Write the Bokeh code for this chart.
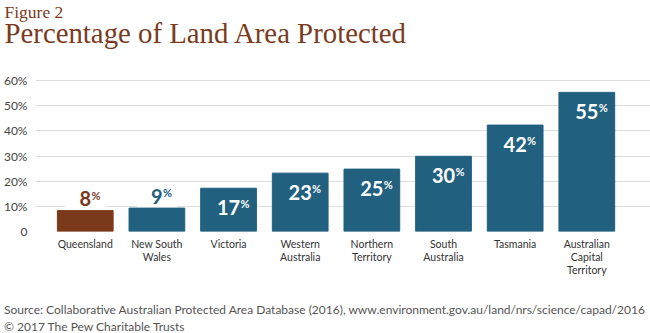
from bokeh.plotting import figure
from bokeh.models import ColumnDataSource, Range1d, FixedTicker, Title
from bokeh.embed import file_html
from bokeh.resources import INLINE
from bokeh.core.properties import value

# ---- data ----
categories = ["Queensland", "New South\nWales", "Victoria", "Western\nAustralia",
              "Northern\nTerritory", "South\nAustralia", "Tasmania",
              "Australian\nCapital\nTerritory"]
protected_pct = [8.3, 9.3, 17.2, 23.2, 24.8, 29.9, 42.3, 55.3]
value_labels = ["8", "9", "17", "23", "25", "30", "42", "55"]
y_ticks = [0, 10, 20, 30, 40, 50, 60]
y_tick_labels = ["0", "10%", "20%", "30%", "40%", "50%", "60%"]
title_text = "Percentage of Land Area Protected"
figure_text = "Figure 2"
source_text = ("Source: Collaborative Australian Protected Area Database (2016), "
               "www.environment.gov.au/land/nrs/science/capad/2016")
copyright_text = "\u00a9 2017 The Pew Charitable Trusts"

# ---- styles ----
BROWN = "#7b391b"
BLUE = "#21607f"
TITLE_COLOR = "#7a3b1e"
GRID = "#dddddd"
LABEL_COLOR = "#333333"
SANS = "Lato"
SERIF = "Liberation Serif"
W, H = 650, 333
FRAME_L, FRAME_T, FRAME_B = 32, 70, 231

n = len(categories)
xs = list(range(n))
colors = [BROWN if i == 0 else BLUE for i in xs]
inside = [v >= 15 for v in protected_pct]


def pct_offset(lbl):
    return len(lbl) * 5.7 + 0.5


src_bars = ColumnDataSource(dict(x=xs, top=protected_pct, color=colors))
in_idx = [i for i in xs if inside[i]]
out_idx = [i for i in xs if not inside[i]]
src_in = ColumnDataSource(dict(
    x=[xs[i] for i in in_idx], y=[protected_pct[i] for i in in_idx],
    text=[value_labels[i] for i in in_idx],
    xo=[pct_offset(value_labels[i]) for i in in_idx]))
src_out = ColumnDataSource(dict(
    x=[xs[i] for i in out_idx], y=[protected_pct[i] for i in out_idx],
    text=[value_labels[i] for i in out_idx],
    color=[colors[i] for i in out_idx],
    xo=[pct_offset(value_labels[i]) for i in out_idx]))

p = figure(width=W, height=H, x_range=Range1d(-0.6944, 7.8889), y_range=Range1d(0, 64),
           output_backend="svg", toolbar_location=None,
           min_border_left=FRAME_L, min_border_right=0, min_border_top=FRAME_T,
           min_border_bottom=H - FRAME_B)
p.outline_line_color = None
p.xgrid.visible = False
p.ygrid.ticker = FixedTicker(ticks=y_ticks)
p.ygrid.grid_line_color = GRID
p.ygrid.grid_line_width = 1

# white gap in gridlines behind labels that sit above short bars
p.rect(x="x", y="y", width=40, height=12, width_units="screen", height_units="screen",
       source=src_out, fill_color="white", line_color=None)

p.vbar(x="x", top="top", width=56 / 72, color="color", source=src_bars)

# labels inside bars
p.text(x="x", y="y", text="text", source=src_in, text_color="white",
       text_font=value(SANS), text_font_style="bold", text_font_size="20px",
       text_align="center", text_baseline="alphabetic", y_offset=26 - 0.34 * 20)
p.text(x="x", y="y", text=value("%"), source=src_in, text_color="white",
       text_font=value(SANS), text_font_style="bold", text_font_size="11px",
       text_align="left", text_baseline="alphabetic", x_offset="xo",
       y_offset=19.3 - 0.34 * 11)
# labels above short bars
p.text(x="x", y="y", text="text", source=src_out, text_color="color",
       text_font=value(SANS), text_font_style="bold", text_font_size="20px",
       text_align="center", text_baseline="alphabetic", y_offset=-5 - 0.34 * 20)
p.text(x="x", y="y", text=value("%"), source=src_out, text_color="color",
       text_font=value(SANS), text_font_style="bold", text_font_size="11px",
       text_align="left", text_baseline="alphabetic", x_offset="xo",
       y_offset=-11.6 - 0.34 * 11)

p.xaxis.ticker = FixedTicker(ticks=xs)
p.xaxis.major_label_overrides = {i: c for i, c in zip(xs, categories)}
p.xaxis.axis_line_color = None
p.xaxis.major_tick_line_color = None
p.xaxis.minor_tick_line_color = None
p.xaxis.major_tick_in = 0
p.xaxis.major_tick_out = 0
p.xaxis.major_label_standoff = 6
p.xaxis.major_label_text_font = SANS
p.xaxis.major_label_text_font_size = "10.5px"
p.xaxis.major_label_text_color = LABEL_COLOR
p.xaxis.major_label_text_line_height = 1.1

p.yaxis.ticker = FixedTicker(ticks=y_ticks)
p.yaxis.major_label_overrides = {t: l for t, l in zip(y_ticks, y_tick_labels)}
p.yaxis.axis_line_color = None
p.yaxis.major_tick_line_color = None
p.yaxis.minor_tick_line_color = None
p.yaxis.major_tick_out = 0
p.yaxis.major_tick_in = 0
p.yaxis.major_label_standoff = 8
p.yaxis.major_label_text_font = SANS
p.yaxis.major_label_text_font_size = "12px"
p.yaxis.major_label_text_color = "#444444"


# ---- titles (above: first added sits closest to the chart) ----
def make_title(txt, fs, font, col, off, standoff=0):
    return Title(text=txt, align="left", offset=off, standoff=standoff,
                 text_font=font, text_font_size=f"{fs}px", text_font_style="normal",
                 text_color=col)


def spacer(gap):
    return Title(text=" ", text_font_size="1px", standoff=gap, text_color="white")


p.add_layout(spacer(18.5), "above")
p.add_layout(make_title(title_text, 28.8, SERIF, TITLE_COLOR, -31), "above")
p.add_layout(make_title(figure_text, 17.5, SERIF, TITLE_COLOR, -31, standoff=-15), "above")

p.add_layout(spacer(17.5), "below")
p.add_layout(make_title(source_text, 12, SANS, "#555555", -31.5), "below")
p.add_layout(make_title(copyright_text, 12, SANS, "#555555", -31.5), "below")

open("out.html", "w").write(file_html(p, INLINE))
